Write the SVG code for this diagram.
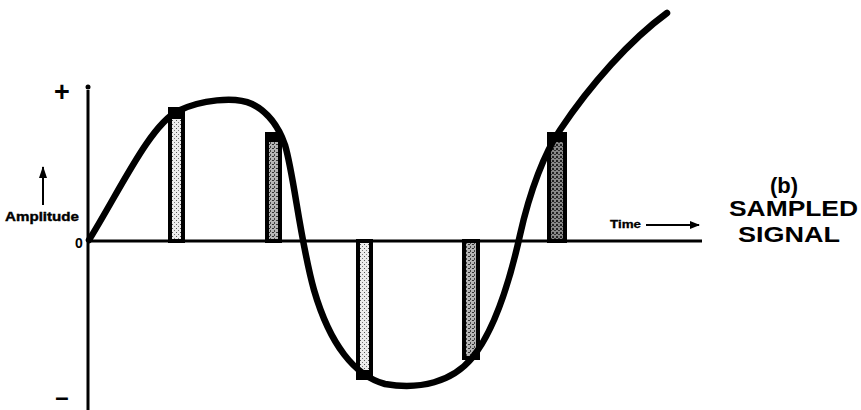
<svg xmlns="http://www.w3.org/2000/svg" width="861" height="410" viewBox="0 0 861 410">
<defs>
<pattern id="stipLight" width="4" height="4" patternUnits="userSpaceOnUse">
<rect width="4" height="4" fill="#ececec"/>
<rect x="0" y="0" width="1" height="1" fill="#555"/>
<rect x="2" y="2" width="1" height="1" fill="#777"/>
</pattern>
<pattern id="stipMid" width="4" height="4" patternUnits="userSpaceOnUse">
<rect width="4" height="4" fill="#b5b5b5"/>
<rect x="0" y="0" width="2" height="1" fill="#333"/>
<rect x="2" y="2" width="1" height="2" fill="#444"/>
</pattern>
<pattern id="stipDark" width="4" height="4" patternUnits="userSpaceOnUse">
<rect width="4" height="4" fill="#888"/>
<rect x="0" y="0" width="2" height="2" fill="#222"/>
<rect x="2" y="2" width="2" height="1" fill="#333"/>
</pattern>
<marker id="arr" markerWidth="10" markerHeight="8" refX="9" refY="4" orient="auto" markerUnits="userSpaceOnUse">
<path d="M0,0 L10,4 L0,8 Z" fill="#000"/>
</marker>
<marker id="arrUp" markerWidth="8" markerHeight="12" refX="4" refY="1" orient="0" markerUnits="userSpaceOnUse">
<path d="M4,0 L8,12 L0,12 Z" fill="#000"/>
</marker>
</defs>
<style>
.axis{stroke:#000;stroke-width:3;fill:none}
.curve{stroke:#000;stroke-width:6.5;fill:none;stroke-linecap:round;stroke-linejoin:round}
.bar{stroke:#000;stroke-width:4}
.cap{fill:#000}
.lbl{font-family:"Liberation Sans",Arial,sans-serif;font-weight:bold;fill:#000}
</style>
<rect width="861" height="410" fill="#fff"/>

<g id="axes">
<line class="axis" x1="88" y1="90" x2="88" y2="410"/>
<circle cx="88" cy="87" r="2.5" fill="#000"/>
<line class="axis" x1="88" y1="241" x2="702" y2="241"/>
</g>

<g id="samples">
<g id="bar1"><rect class="bar" x="170" y="112" width="13" height="129" fill="url(#stipLight)"/><rect class="cap" x="168" y="107" width="17" height="12"/></g>
<g id="bar2"><rect class="bar" x="267" y="137" width="13" height="104" fill="url(#stipMid)"/><rect class="cap" x="265" y="132" width="17" height="10"/></g>
<g id="bar3"><rect class="bar" x="358" y="241" width="13" height="136" fill="url(#stipLight)"/><rect class="cap" x="356" y="370" width="17" height="10"/></g>
<g id="bar4"><rect class="bar" x="464" y="241" width="14" height="117" fill="url(#stipMid)"/></g>
<g id="bar5"><rect class="bar" x="549" y="135" width="16" height="106" fill="url(#stipDark)"/><rect class="cap" x="547" y="132" width="20" height="10"/></g>
</g>

<g id="signal">
<path class="curve" d="M89,240 C120,190 150,125 178,111 C200,100 235,96 252,104 C268,112 278,125 285,145 C294,175 300,240 314,290 C330,345 355,376 385,384 C420,390 452,382 472,358 C495,330 510,280 520,235 C530,190 545,152 560,130 C590,85 630,40 667,13"/>
</g>

<g id="labels">
<text class="lbl" x="62" y="101" font-size="27" text-anchor="middle">+</text>
<text class="lbl" x="62" y="405" font-size="24" text-anchor="middle">–</text>
<text class="lbl" x="79" y="248" font-size="14" text-anchor="middle">0</text>
<text class="lbl" x="5" y="221" font-size="13" textLength="74" lengthAdjust="spacingAndGlyphs" stroke="#000" stroke-width="0.4">Amplitude</text>
<line x1="43" y1="205" x2="43" y2="167" stroke="#000" stroke-width="2" marker-end="url(#arrUp)"/>
<text class="lbl" x="610" y="228" font-size="11" textLength="31" lengthAdjust="spacingAndGlyphs" stroke="#000" stroke-width="0.3">Time</text>
<line x1="646" y1="225" x2="699" y2="225" stroke="#000" stroke-width="2" marker-end="url(#arr)"/>
<text class="lbl" x="784" y="193" font-size="22" text-anchor="middle">(b)</text>
<text class="lbl" x="729" y="216" font-size="22" textLength="129" lengthAdjust="spacingAndGlyphs">SAMPLED</text>
<text class="lbl" x="738" y="242" font-size="22" textLength="102" lengthAdjust="spacingAndGlyphs">SIGNAL</text>
</g>
</svg>
